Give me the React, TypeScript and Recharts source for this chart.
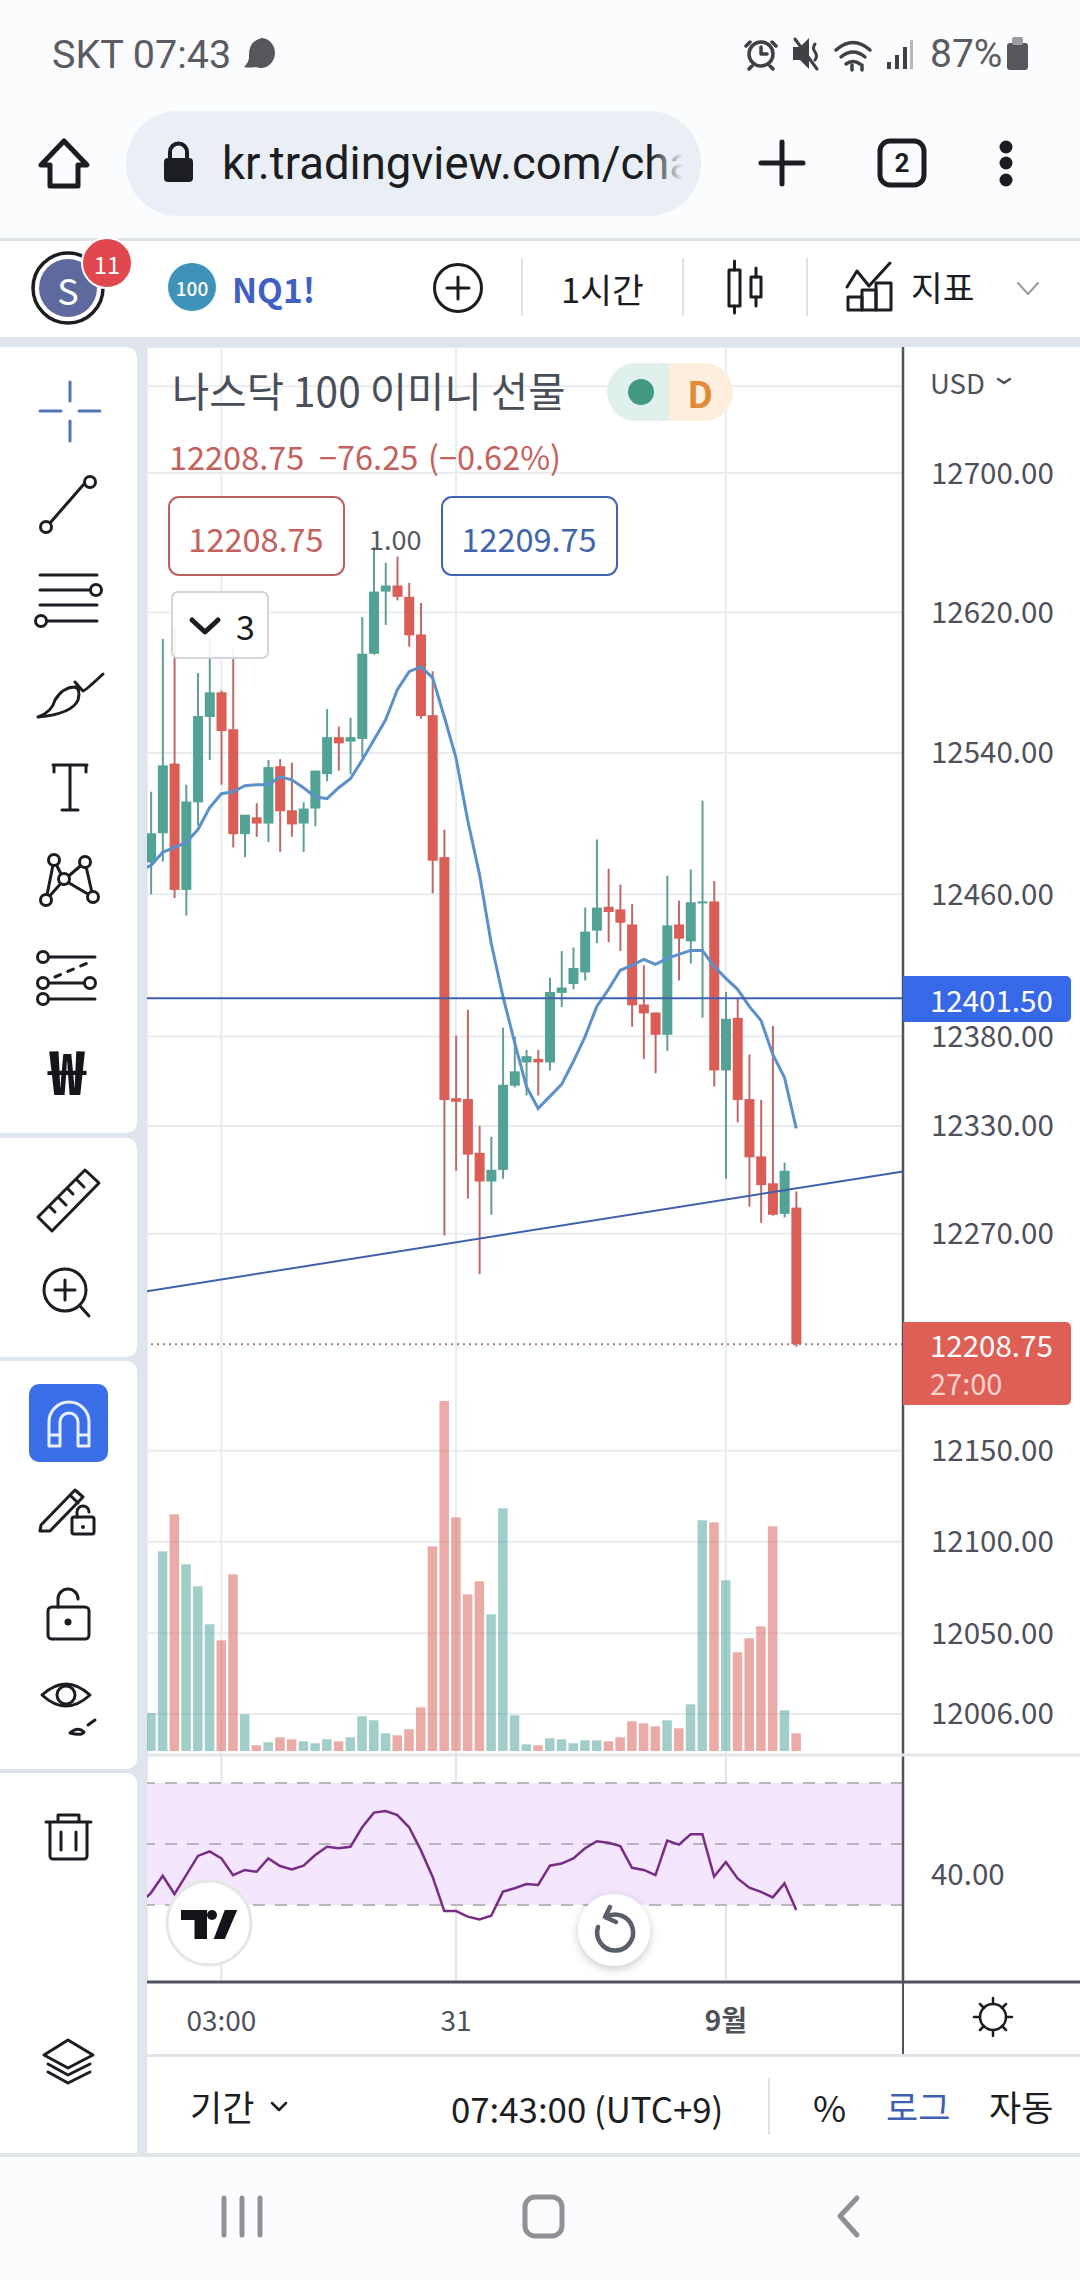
import React from "react";
import {
  ComposedChart, Bar, Line, XAxis, YAxis, CartesianGrid, ReferenceLine, ReferenceArea,
} from "recharts";

const opens = [12478,12494.5,12534,12462.5,12512,12560.5,12574.5,12553.5,12494,12503.5,12500,12532.5,12507.5,12500,12508.5,12528,12549,12546.5,12548,12596.5,12632,12635.5,12629,12607.5,12561.5,12481,12345.5,12345,12315,12299,12305.5,12352.5,12365.5,12367.5,12365.5,12404.5,12409.5,12416,12439.5,12453,12451.5,12443,12398,12393.5,12381,12443,12433.5,12455,12456,12361,12390.5,12345,12313,12298,12281,12284.5];
const highs = [12518,12605,12610,12522,12585.5,12605.5,12575.5,12599,12505,12511.5,12536,12536.5,12534.5,12512,12530,12565,12555,12560,12617.5,12657.5,12648.5,12652,12637,12625.5,12586.5,12496.5,12380.5,12395,12330,12324,12385,12380,12372.5,12372.5,12413,12428,12430,12452.5,12491,12474.5,12465.5,12454.5,12420,12393.5,12470.5,12456.5,12474,12513,12467.5,12405,12401.5,12370,12344.5,12386,12309.5,12293.5];
const lows = [12460,12478.5,12458,12448,12499,12536,12522,12486.5,12481,12492.5,12489.5,12484,12492.5,12484,12498.5,12524,12530,12528,12537.5,12596,12613,12627,12600.5,12559.5,12460.5,12269,12305,12289.5,12247.5,12280.5,12300.5,12351.5,12347,12347,12361,12396.5,12406.5,12411.5,12432.5,12433,12428,12385.5,12367.5,12359.5,12372,12411.5,12421,12390.5,12352,12300.5,12332,12285,12276,12280,12279,12207.25];
const closes = [12494.5,12533,12462.5,12512.5,12561,12574.5,12552.5,12494,12505,12500,12532,12507,12499.5,12508.5,12530,12549,12545.5,12549,12596.5,12632,12635.5,12629,12607,12561,12479,12344.5,12343.5,12314,12299,12305.5,12353,12360.5,12369,12365.5,12405,12407.5,12418.5,12439,12452.5,12450,12444,12397.5,12393,12381,12442.5,12435,12455.5,12456,12361,12390,12344.5,12312.5,12297,12280.5,12305,12208.75];
const volumes = [3800,19970,23670,18670,16470,12670,11070,17670,3670,570,870,1370,1170,970,770,1170,970,1370,3470,3070,1770,1570,2170,4370,20470,35000,23370,15670,16970,13670,24270,3570,670,570,1270,1170,770,1070,1070,970,1370,2970,2770,2470,3070,2270,4670,23070,22870,17070,9870,11270,12470,22470,4070,1770];
const smaValues = [12476.3,12483.7,12486.5,12489.3,12496.6,12509,12516.9,12518,12521.4,12522,12522,12526.5,12524.8,12520.3,12515.2,12514.1,12520.3,12525.4,12536,12547.4,12558.9,12576,12586.3,12589.1,12582.9,12560.6,12537.2,12501.7,12471.3,12432.4,12402.5,12376.6,12352.1,12339.8,12346.5,12353.2,12366,12380,12396.9,12406.5,12417.2,12420,12423.4,12420.6,12423.9,12426.2,12428.4,12428.4,12419.4,12412.7,12406.5,12396.9,12389,12370,12357.1,12328.6];
const rsiValues = [34,39.6,33.6,39.8,46.1,47.6,45.3,39.8,41.5,40.9,45.3,42.8,41.7,42.9,46.4,49.1,48.6,49.1,55.5,60.3,60.8,59.5,55.5,48,39.3,28,28,26.2,25.3,26.5,34.4,35.5,36.9,36.6,42.9,43.6,45.3,48.6,50.9,50.4,49.3,42.2,41.5,39.8,51.1,49.8,53.2,53.2,39.3,44.1,38.7,35.7,34.3,32.5,37.1,28.4];
const priorSma = 12473.5;
const priorRsi = 30.3;

const priceTicks = [12006,12050,12100,12150,12270,12330,12380,12460,12540,12620,12700,12750];
const unlabelledPrice = 12750;
const priceDomain = [11983.7, 12772.7];
const volumeDomain = [-400, 140400];
const rsiDomain = [4.75, 79.2];
const rsiBands = [30, 50, 70];
const rsiTicks = [40];
const timeTickIndex = [6, 26, 49];
const timeTickLabels = ["03:00", "31", "9월"];
const xDomain = [-0.34, 64.1];
const lastPrice = 12208.75;
const alertPrice = 12401.5;
const trendStart = { i: -0.34, price: 12238 };
const trendEnd = { i: 64.1, price: 12304.6 };

const rows: any[] = [
  { i: -1, sma: priorSma, rsi: priorRsi },
  ...opens.map((o, i) => ({
    i, open: o, high: highs[i], low: lows[i], close: closes[i],
    range: [lows[i], highs[i]], volume: volumes[i], sma: smaValues[i], rsi: rsiValues[i],
    up: closes[i] >= o,
  })),
];

const KR = '"Noto Sans CJK KR", "Noto Sans", sans-serif';
const AXIS_TEXT = "#4e515a";
const GRID = "#e8ecef";
const GREEN = "#53a296";
const RED = "#db5e56";

const Candle = (p: any) => {
  const { x, y, width, height, payload } = p;
  if (!payload || payload.high === undefined) return null;
  const cx = x + width / 2;
  const lh = Math.log(payload.high), ll = Math.log(payload.low);
  const at = (v: number) => y + (height * (lh - Math.log(v))) / (lh - ll);
  const top = at(Math.max(payload.open, payload.close));
  const bot = at(Math.min(payload.open, payload.close));
  return (
    <g>
      <line x1={cx} x2={cx} y1={y} y2={y + height} stroke={payload.up ? "#5f9f95" : "#bd6a67"} strokeWidth={2} />
      <rect x={cx - 5} y={top} width={10} height={Math.max(bot - top, 2)} fill={payload.up ? GREEN : RED} />
    </g>
  );
};

const VolumeBar = (p: any) => {
  if (!p.payload || p.payload.volume === undefined) return null;
  return (
    <rect x={p.x} y={p.y} width={p.width} height={p.height}
      fill={p.payload.up ? "rgba(83,166,156,0.55)" : "rgba(219,110,104,0.58)"} />
  );
};

const TimeTick = (p: any) => {
  const idx = timeTickIndex.indexOf(p.payload.value);
  return (
    <text x={p.x} y={276} textAnchor="middle" fontFamily={KR} fontSize={28}
      fontWeight={idx === 2 ? 700 : 400} fill={AXIS_TEXT}>{timeTickLabels[idx]}</text>
  );
};

const Stroke = ({ children, w = 3, c = "#1b1d22" }: any) => (
  <g fill="none" stroke={c} strokeWidth={w} strokeLinecap="round" strokeLinejoin="round">{children}</g>
);

const Txt = ({ x, y, s, c = "#1b1d22", a = "start", w = 400, f = KR, children }: any) => (
  <text x={x} y={y} fontSize={s} fill={c} textAnchor={a} fontWeight={w} fontFamily={f} dominantBaseline="central">{children}</text>
);

const Background = () => (
  <svg width={1080} height={2280} style={{ position: "absolute", left: 0, top: 0 }}>
    <rect width={1080} height={2280} fill="#fbfcfe" />
    <rect y={238} width={1080} height={3} fill="#dfe3e8" />
    <rect y={241} width={1080} height={96} fill="#ffffff" />
    <rect y={337} width={1080} height={1820} fill="#e0e4ec" />
    <rect x={147} y={347} width={933} height={1707} fill="#ffffff" />
    <rect y={2057} x={147} width={933} height={96} fill="#ffffff" />
    <rect y={2157} width={1080} height={123} fill="#fbfcfe" />
    <rect y={2153} x={0} width={1080} height={4} fill="#e0e4ec" />
    <path d="M0 347H127a10 10 0 0 1 10 10V1123a10 10 0 0 1-10 10H0Z" fill="#fff" />
    <path d="M0 1138H127a10 10 0 0 1 10 10V1347a10 10 0 0 1-10 10H0Z" fill="#fff" />
    <path d="M0 1361H127a10 10 0 0 1 10 10V1759a10 10 0 0 1-10 10H0Z" fill="#fff" />
    <path d="M0 1773H127a10 10 0 0 1 10 10V2153H0Z" fill="#fff" />
  </svg>
);

const Chrome = () => (
  <svg width={1080} height={2280} style={{ position: "absolute", left: 0, top: 0, pointerEvents: "none" }}>
    {/* status bar */}
    <Txt x={52} y={54} s={39.5} c="#5a5c61" f="Roboto">SKT 07:43</Txt>
    <path d="M262 38a14 15 0 1 1-6 29q-7 1-12 0q5-5 5-10q-1-16 13-19Z" fill="#55575c" />
    <Stroke w={3.5} c="#3e4045">
      <circle cx={761} cy={54} r={12} />
      <path d="M761 47v7h6M750 42l-4 4M772 42l4 4M752 66l-3 3M770 66l3 3" />
    </Stroke>
    <path d="M793 47h7l9-9v31l-9-9h-7Z" fill="#3e4045" />
    <Stroke w={3} c="#3e4045"><path d="M795 39l22 30M815 44q-3 4 0 8q3 4 0 8" /></Stroke>
    <Stroke w={3.5} c="#3e4045">
      <path d="M836 50q17-15 34 0M841 57q12-10 24 0M846 64q7-5 14 0" />
      <path d="M852 70v-5M862 70v-5" />
    </Stroke>
    <g fill="#3e4045">
      <rect x={887} y={62} width={4} height={7} /><rect x={895} y={55} width={4} height={14} />
      <rect x={903} y={47} width={4} height={22} /><rect x={910} y={40} width={3} height={29} fill="#b8babd" />
    </g>
    <Txt x={930} y={54} s={39} c="#5a5c61" f="Roboto">87%</Txt>
    <rect x={1007} y={43} width={21} height={27} rx={3} fill="#55575c" />
    <rect x={1012} y={37} width={11} height={8} rx={2} fill="#9a9ca0" />

    {/* browser bar */}
    <Stroke w={5}><path d="M64 141 L87 165 H78 V186 H50 V165 H41 Z" /></Stroke>
    <rect x={126} y={111} width={575} height={105} rx={52} fill="#e9eff5" />
    <rect x={164} y={158} width={29} height={24} rx={4} fill="#1c1e22" />
    <Stroke w={4}><path d="M170 158v-6a8.5 8.5 0 0 1 17 0v6" /></Stroke>
    <svg x={222} y={120} width={461} height={90}>
      <Txt x={0} y={43} s={45.5} f="Roboto">kr.tradingview.com/cha</Txt>
    </svg>
    <defs>
      <linearGradient id="urlFade" x1="0" x2="1" y1="0" y2="0">
        <stop offset="0" stopColor="#e9eff5" stopOpacity="0" />
        <stop offset="1" stopColor="#e9eff5" stopOpacity="1" />
      </linearGradient>
    </defs>
    <rect x={650} y={125} width={33} height={76} fill="url(#urlFade)" />
    <Stroke w={5}><path d="M761 163H803M782 142V184" /></Stroke>
    <rect x={880} y={141} width={44} height={44} rx={10} fill="none" stroke="#1b1d22" strokeWidth={5} />
    <Txt x={902} y={163} s={26} a="middle" w={700} f="Roboto">2</Txt>
    <g fill="#1b1d22"><circle cx={1006} cy={147} r={6.5} /><circle cx={1006} cy={163} r={6.5} /><circle cx={1006} cy={180} r={6.5} /></g>

    {/* chart toolbar */}
    <circle cx={68} cy={288} r={35} fill="none" stroke="#1b1d22" strokeWidth={3.5} />
    <circle cx={68} cy={288} r={29} fill="#5e6a9e" />
    <Txt x={68} y={289} s={36} c="#fff" a="middle">S</Txt>
    <circle cx={107} cy={263} r={25} fill="#e0474f" stroke="#fff" strokeWidth={2} />
    <Txt x={107} y={263} s={24} c="#fff" a="middle">11</Txt>
    <circle cx={192} cy={287} r={24} fill="#3f93ba" />
    <Txt x={192} y={287} s={19} c="#fff" a="middle" w={500}>100</Txt>
    <Txt x={232} y={288} s={33.5} c="#3f5fc4" w={700}>NQ1!</Txt>
    <circle cx={458} cy={288} r={23.5} fill="none" stroke="#1b1d22" strokeWidth={3} />
    <Stroke w={3}><path d="M447 288H469M458 277V299" /></Stroke>
    {[521, 682, 806].map((x) => <rect key={x} x={x} y={258} width={2} height={58} fill="#e0e3e6" />)}
    <Txt x={561} y={288} s={34.5}>1시간</Txt>
    <Stroke w={3}>
      <rect x={729} y={270} width={11} height={36} /><path d="M734.5 261V270M734.5 306V313" />
      <rect x={751} y={277} width={10} height={20} /><path d="M756 268V277M756 297V306" />
    </Stroke>
    <Stroke w={3}>
      <path d="M847 287l10-16 12 15 21-23" />
      <rect x={848} y={297} width={14} height={13} /><rect x={862} y={290} width={14} height={20} /><rect x={876} y={283} width={15} height={27} />
    </Stroke>
    <Txt x={911} y={286} s={34.5}>지표</Txt>
    <Stroke w={2} c="#9a9da2"><path d="M1018 283l10 11 10-11" /></Stroke>

    {/* left tool column */}
    <Stroke w={3} c="#5373b8"><path d="M70 382V401M70 421V441M40 411H61M79 411H100" /></Stroke>
    <Stroke w={3}>
      <path d="M50 523L84 484" />
      <circle cx={46} cy={527} r={5.5} fill="#fff" /><circle cx={90} cy={482} r={5.5} fill="#fff" />
      <path d="M40 575H97M40 590H92M40 605H97M47 621H97" />
      <circle cx={96} cy={590} r={5.5} fill="#fff" /><circle cx={41} cy={621} r={5.5} fill="#fff" />
      <path d="M38 717q14-5 17-17q8-13 20-13q6 2 3 13q-6 14-40 17ZM75 682q4 5 8 9q2 0 20-17" />
      <path d="M53 765H87M54 772V765M86 772V765M70 765V810M62 810H78" />
      <path d="M46 900L54 860L64 880L85 862L93 897L64 880L46 900" />
      <circle cx={54} cy={860} r={5.5} fill="#fff" /><circle cx={85} cy={862} r={5.5} fill="#fff" />
      <circle cx={64} cy={879} r={5.5} fill="#fff" /><circle cx={46} cy={900} r={5.5} fill="#fff" /><circle cx={93} cy={897} r={5.5} fill="#fff" />
      <path d="M48 957H95M48 983H85M48 999H95" />
      <path d="M55 977L90 962" strokeDasharray="6 8" />
      <circle cx={43} cy={957} r={5.5} fill="#fff" /><circle cx={90} cy={983} r={5.5} fill="#fff" />
      <circle cx={43} cy={983} r={5.5} fill="#fff" /><circle cx={43} cy={999} r={5.5} fill="#fff" />
    </Stroke>
    <Txt x={67} y={1068} s={60} a="middle" w={900} c="#14161c">₩</Txt>
    <Stroke w={3}>
      <path d="M38 1217L85 1170L99 1183L52 1231ZM49 1206l6 6M58 1197l8 8M67 1188l6 6M76 1179l8 8" />
      <circle cx={65} cy={1290} r={21} /><path d="M80 1306L89 1316M55 1290H75M65 1280V1300" />
    </Stroke>
    <rect x={29} y={1384} width={79} height={78} rx={10} fill="#3b6ee8" />
    <Stroke w={3} c="#e8f0ff">
      <path d="M49 1446V1422a20 20 0 0 1 40 0V1446H78V1422a9 9 0 0 0-18 0V1446ZM49 1435H60M78 1435H89" />
    </Stroke>
    <Stroke w={3}>
      <path d="M41 1525L75 1490L83 1497L50 1531L40 1531ZM70 1495l8 8" />
      <rect x={72} y={1517} width={22} height={17} rx={2} /><path d="M77 1517v-5a6 6 0 0 1 12 0" />
      <rect x={48} y={1607} width={41} height={32} rx={4} /><path d="M58 1607v-8a10 10 0 0 1 20 0" />
      <path d="M42 1695q24-22 48 0q-24 22-48 0Z" /><circle cx={66} cy={1695} r={9} />
      <path d="M70 1733q8-7 14-1q-2 4-14 1M88 1725l7-5" />
      <path d="M46 1822H91M50 1822V1856a3 3 0 0 0 3 3H84a3 3 0 0 0 3-3V1822M58 1822V1815H79V1822M61 1832V1850M76 1832V1850" />
      <path d="M68 2040L93 2055L68 2068L44 2055ZM48 2064L68 2075L90 2064M48 2072L68 2083L90 2072" />
    </Stroke>
    <circle cx={68} cy={1622} r={3.5} fill="#1b1d22" />
    <circle cx={83} cy={1527} r={2} fill="#1b1d22" />

    {/* legend over chart */}
    <Txt x={172} y={389} s={40.6} c="#4a4e58">나스닥 100 이미니 선물</Txt>
    <path d="M636 363H669V421H636a29 29 0 0 1 0-58Z" fill="#e0f0ec" />
    <path d="M669 363H704a29 29 0 0 1 0 58H669Z" fill="#fdeedd" />
    <circle cx={641} cy={392} r={13} fill="#3f9a80" />
    <Txt x={700} y={392} s={36} c="#e08a3a" a="middle" w={700}>D</Txt>
    <Txt x={169} y={455} s={32.5} c="#c4615d">12208.75</Txt>
    <Txt x={319} y={455} s={32.5} c="#c4615d">−76.25</Txt>
    <Txt x={428} y={455} s={32.5} c="#c4615d">(−0.62%)</Txt>
    <rect x={169} y={497} width={175} height={78} rx={10} fill="#fff" stroke="#bd5f5c" strokeWidth={2} />
    <Txt x={256} y={537} s={32.5} c="#c4615d" a="middle">12208.75</Txt>
    <Txt x={369} y={538} s={27} c="#55585f">1.00</Txt>
    <rect x={442} y={497} width={175} height={78} rx={10} fill="#fff" stroke="#4164ae" strokeWidth={2} />
    <Txt x={529} y={537} s={32.5} c="#4164ae" a="middle">12209.75</Txt>
    <rect x={172} y={592} width={96} height={66} rx={6} fill="rgba(255,255,255,0.9)" stroke="#d2d5d9" strokeWidth={2} />
    <Stroke w={5}><path d="M192 620l13 12 13-12" /></Stroke>
    <Txt x={236} y={625} s={34}>3</Txt>

    {/* price axis extras */}
    <rect x={147} y={1753.5} width={933} height={3} fill="#e2e6ea" />
    <Txt x={930} y={382} s={27.5} c={AXIS_TEXT}>USD</Txt>
    <Stroke w={2.5} c={AXIS_TEXT}><path d="M998 379l6 4 6-4" /></Stroke>
    <path d="M903 976H1066a5 5 0 0 1 5 5V1017a5 5 0 0 1-5 5H903Z" fill="#3668e8" />
    <Txt x={930} y={999} s={29.5} c="#fff">12401.50</Txt>
    <path d="M903 1322H1066a5 5 0 0 1 5 5V1400a5 5 0 0 1-5 5H903Z" fill="#de5f56" />
    <Txt x={930} y={1344} s={29.5} c="#fff">12208.75</Txt>
    <Txt x={930} y={1382} s={29} c="#fbd3cf">27:00</Txt>

    {/* floating buttons */}
    <circle cx={209} cy={1923} r={42} fill="#fff" stroke="#e6e6e6" strokeWidth={3} />
    <path d="M181 1910H207V1939H194.5V1920H181Z" fill="#12141a" />
    <circle cx={212} cy={1915} r={5} fill="#12141a" />
    <path d="M224.8 1910H237.3L224.8 1939H213.7Z" fill="#12141a" />
    <defs><filter id="sh" x="-30%" y="-30%" width="160%" height="170%"><feDropShadow dx="0" dy="3" stdDeviation="5" floodOpacity="0.22" /></filter></defs>
    <circle cx={614} cy={1930} r={36} fill="#fff" filter="url(#sh)" />
    <Stroke w={4.5} c="#5a5e68">
      <path d="M606 1917a18 18 0 1 1-8 10" /><path d="M610 1907l-5 10 11 5" />
    </Stroke>

    {/* below the panes */}
    <rect x={903} y={1980.5} width={177} height={3} fill="#50535c" />
    <rect x={902} y={1982} width={2} height={72} fill="#50535c" />
    <Stroke w={2.5}>
      <circle cx={993} cy={2017} r={13} />
      <path d="M993 1998V2004M993 2030V2036M974 2017H980M1006 2017H1012M980 2004l4 4M1006 2004l-4 4M980 2030l4-4M1006 2030l-4-4" />
    </Stroke>
    <rect x={147} y={2054} width={933} height={3} fill="#e0e3e7" />
    <Txt x={190} y={2105} s={35}>기간</Txt>
    <Stroke w={2.5}><path d="M272 2103l7 7 7-7" /></Stroke>
    <Txt x={451} y={2108} s={34.8}>07:43:00 (UTC+9)</Txt>
    <rect x={768} y={2078} width={2} height={57} fill="#e0e3e6" />
    <Txt x={813} y={2106} s={36}>%</Txt>
    <Txt x={886} y={2105} s={35} c="#3f5fb0">로그</Txt>
    <Txt x={989} y={2105} s={35}>자동</Txt>

    {/* nav bar */}
    <Stroke w={5} c="#8f9195">
      <path d="M224 2198V2235M242 2198V2235M260 2198V2235" />
      <rect x={525} y={2197} width={37} height={39} rx={10} />
      <path d="M857 2198L840 2216L857 2235" />
    </Stroke>
  </svg>
);

export default function App() {
  return (
    <div style={{ position: "absolute", left: 0, top: 0, width: 1080, height: 2280, overflow: "hidden" }}>
      <Background />
      <div style={{ position: "absolute", left: 147, top: 347 }}>
        <ComposedChart width={933} height={1408} data={rows} margin={{ top: 0, right: 0, bottom: 0, left: 0 }}>
          <CartesianGrid yAxisId="price" stroke={GRID} strokeWidth={2} />
          <XAxis dataKey="i" type="number" domain={xDomain} ticks={timeTickIndex} allowDataOverflow hide />
          <XAxis xAxisId="vx" dataKey="i" type="number" domain={xDomain} ticks={timeTickIndex} allowDataOverflow hide />
          <YAxis yAxisId="price" orientation="right" width={177} scale="log" type="number" domain={priceDomain}
            allowDataOverflow ticks={priceTicks} interval={0} tickLine={false} tickMargin={22}
            axisLine={{ stroke: "#50535c", strokeWidth: 2.5 }}
            tick={{ fontFamily: KR, fontSize: 29.5, fill: AXIS_TEXT, textAnchor: "start" }}
            tickFormatter={(v: number) => (v === unlabelledPrice ? "" : v.toFixed(2))} />
          <YAxis yAxisId="vol" hide type="number" domain={volumeDomain} allowDataOverflow />
          <Bar xAxisId="vx" yAxisId="vol" dataKey="volume" barSize={9.5} shape={VolumeBar} isAnimationActive={false} />
          <ReferenceLine yAxisId="price" y={lastPrice} stroke="#9c7f7e" strokeWidth={2} strokeDasharray="2 4" />
          <Bar yAxisId="price" dataKey="range" barSize={10} shape={Candle} isAnimationActive={false} />
          <Line yAxisId="price" dataKey="sma" type="linear" stroke="#5b90ca" strokeWidth={3} dot={false} isAnimationActive={false} />
          <ReferenceLine yAxisId="price" y={alertPrice} stroke="#3f61ab" strokeWidth={2} />
          <ReferenceLine yAxisId="price" ifOverflow="visible" stroke="#3f61ab" strokeWidth={2}
            segment={[{ x: trendStart.i, y: trendStart.price }, { x: trendEnd.i, y: trendEnd.price }]} />
        </ComposedChart>
      </div>
      <div style={{ position: "absolute", left: 147, top: 1755 }}>
        <ComposedChart width={933} height={299} data={rows} margin={{ top: 0, right: 0, bottom: 0, left: 0 }}>
          <ReferenceArea y1={rsiBands[0]} y2={rsiBands[2]} fill="#f4e6fc" fillOpacity={1} stroke="none" />
          <CartesianGrid stroke="#e3e6ec" strokeWidth={2} />
          {rsiBands.map((b) => (
            <ReferenceLine key={b} y={b} stroke="#b9b5bd" strokeWidth={2} strokeDasharray="12 10" />
          ))}
          <XAxis dataKey="i" type="number" domain={xDomain} ticks={timeTickIndex} allowDataOverflow height={72}
            tickLine={false} tick={TimeTick} axisLine={{ stroke: "#50535c", strokeWidth: 3 }} />
          <YAxis orientation="right" width={177} type="number" domain={rsiDomain} allowDataOverflow ticks={rsiTicks}
            interval={0} tickLine={false} tickMargin={22} axisLine={{ stroke: "#50535c", strokeWidth: 2.5 }}
            tick={{ fontFamily: KR, fontSize: 29.5, fill: AXIS_TEXT, textAnchor: "start" }}
            tickFormatter={(v: number) => v.toFixed(2)} />
          <Line dataKey="rsi" type="linear" stroke="#772d85" strokeWidth={2.5} dot={false} isAnimationActive={false} />
        </ComposedChart>
      </div>
      <Chrome />
    </div>
  );
}
